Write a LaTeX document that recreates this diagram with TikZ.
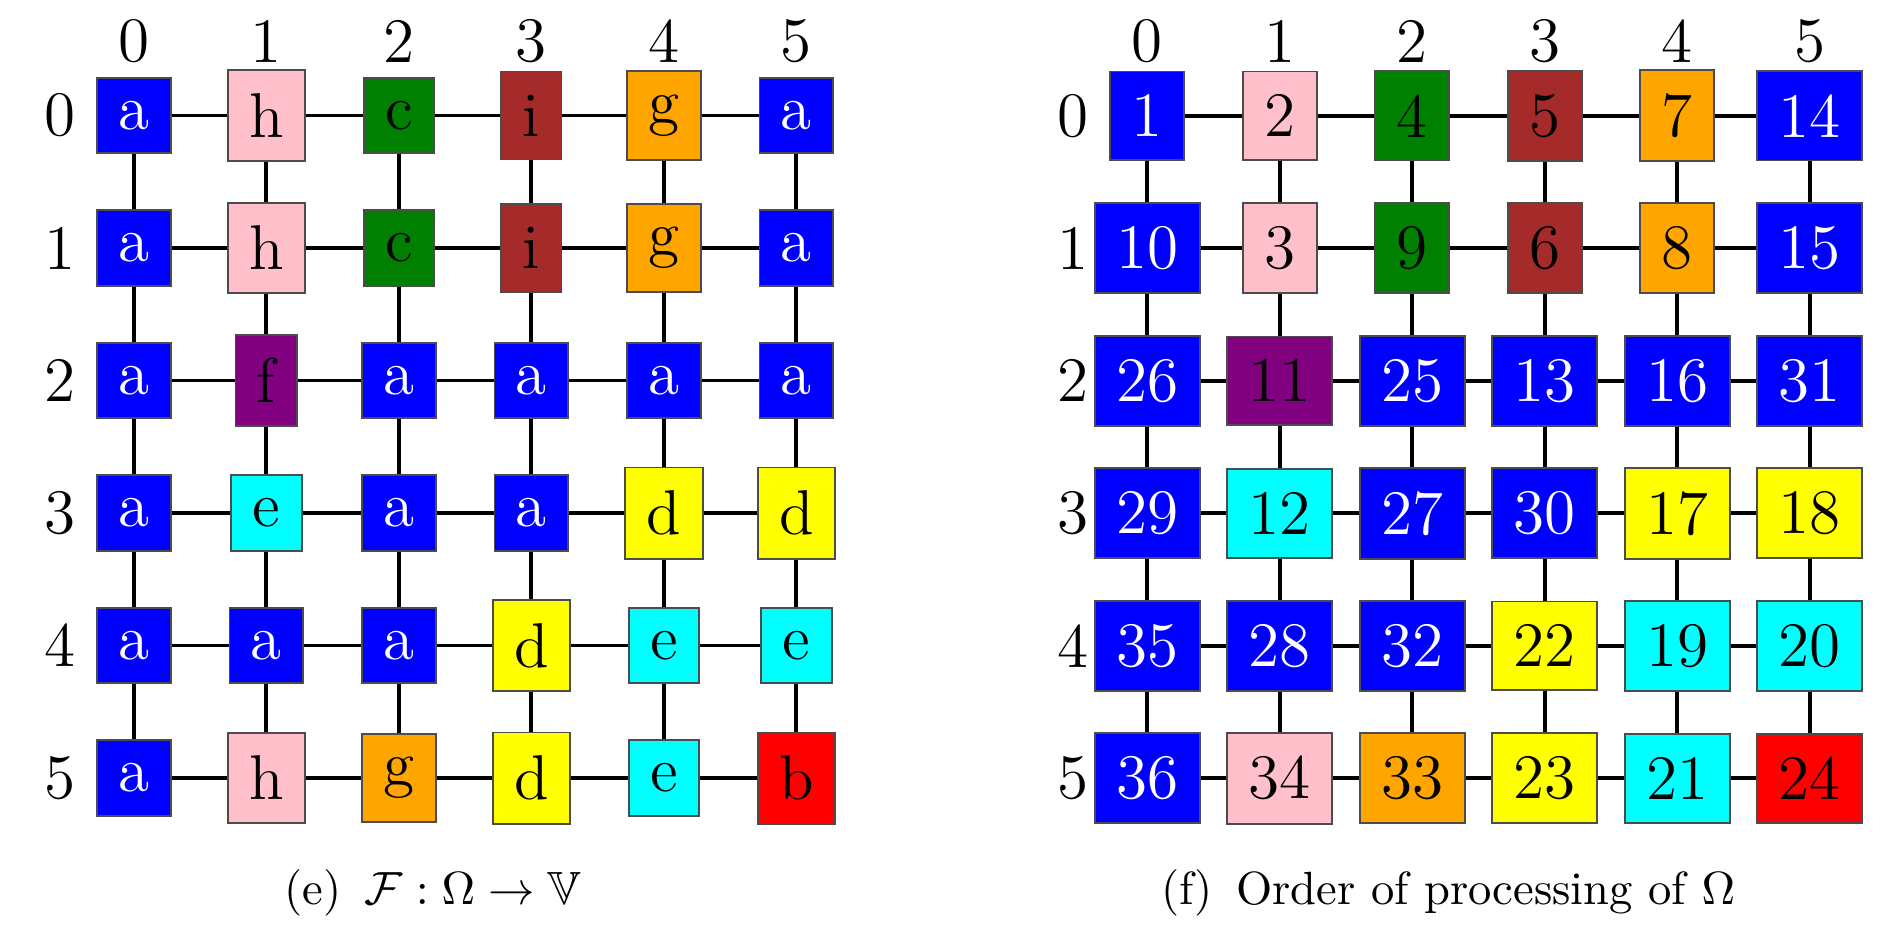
\documentclass[tikz,border=0pt]{standalone}
\usepackage{amssymb}

% cell colours, one per letter
\definecolor{Cola}{RGB}{0,0,255}
\definecolor{Colb}{RGB}{255,0,0}
\definecolor{Colc}{RGB}{0,128,0}
\definecolor{Cold}{RGB}{255,255,0}
\definecolor{Cole}{RGB}{0,255,255}
\definecolor{Colf}{RGB}{128,0,128}
\definecolor{Colg}{RGB}{255,165,0}
\definecolor{Colh}{RGB}{255,192,203}
\definecolor{Coli}{RGB}{165,42,42}
\colorlet{Txta}{white}
\colorlet{Txtb}{black}
\colorlet{Txtc}{black}
\colorlet{Txtd}{black}
\colorlet{Txte}{black}
\colorlet{Txtf}{black}
\colorlet{Txtg}{black}
\colorlet{Txth}{black}
\colorlet{Txti}{black}

\begin{document}
\begin{tikzpicture}[x=1cm, y=-1cm]
                \useasboundingbox (0,0) rectangle (14.174,7.049);

                % 1. Styles
                \tikzstyle{Cell} = [rectangle, draw=black!70, line width=0.4pt,
                    inner xsep=4.6pt, inner ysep=5pt, font=\fontsize{13.6}{16}\selectfont]
                \tikzstyle{Label} = [inner sep=0pt, font=\fontsize{13.6}{16}\selectfont]
                \tikzstyle{Link} = [line width=0.85pt]

                % 2. Left grid: labels of the cells
                \foreach \Row [count=\i from 0] in
                    {{a,h,c,i,g,a},{a,h,c,i,g,a},{a,f,a,a,a,a},
                     {a,e,a,a,d,d},{a,a,a,d,e,e},{a,h,g,d,e,b}}
                    \foreach \c [count=\j from 0] in \Row
                        \node[Cell, fill=Col\c, text=Txt\c] (L\i\j) at (1.011+\j, 0.872+\i) {\c};

                % 3. Right grid: order of processing
                \foreach \Row [count=\i from 0] in
                    {{a/1,h/2,c/4,i/5,g/7,a/14},{a/10,h/3,c/9,i/6,g/8,a/15},
                     {a/26,f/11,a/25,a/13,a/16,a/31},{a/29,e/12,a/27,a/30,d/17,d/18},
                     {a/35,a/28,a/32,d/22,e/19,e/20},{a/36,h/34,g/33,d/23,e/21,b/24}}
                    \foreach \c/\n [count=\j from 0] in \Row
                        \node[Cell, fill=Col\c, text=Txt\c] (R\i\j) at (8.659+\j, 0.874+\i) {\n};

                % 4. Grid links (horizontal and vertical)
                \foreach \G in {L,R} {
                    \foreach \i in {0,...,5} {
                        \foreach \j [evaluate=\j as \k using int(\j+1)] in {0,...,4} {
                            \draw[Link] (\G\i\j) -- (\G\i\k);
                            \draw[Link] (\G\j\i) -- (\G\k\i);
                        }
                    }
                }

                % 5. Row and column numbers
                \foreach \j in {0,...,5} {
                    \node[Label] (LCol\j) at (1.011+\j, 0.313) {\j};
                    \node[Label] (LRow\j) at (0.453, 0.872+\j) {\j};
                    \node[Label] (RCol\j) at (8.659+\j, 0.313) {\j};
                    \node[Label] (RRow\j) at (8.100, 0.874+\j) {\j};
                }

                % 6. Captions
                \node[anchor=base] (CapE) at (3.268, 6.823)
                    {(e)\enspace$\mathcal{F}:\Omega\rightarrow\mathbb{V}$};
                \node[anchor=base] (CapF) at (10.93, 6.823)
                    {(f)\enspace Order of processing of $\Omega$};

            \end{tikzpicture}
\end{document}
